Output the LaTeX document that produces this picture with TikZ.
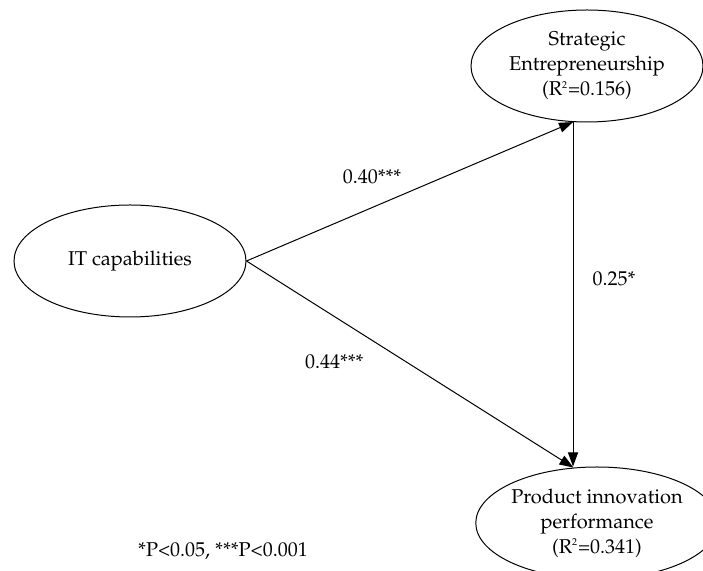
\documentclass[tikz,border=0pt]{standalone}
\usepackage[T1]{fontenc}
\usepackage{mathpazo}
\usetikzlibrary{shapes.geometric,arrows.meta}

\begin{document}
\begin{tikzpicture}[x=0.5pt,y=-0.5pt,
    latent/.style={ellipse,draw,line width=0.5pt,inner sep=0pt,
      minimum width=116pt,minimum height=56pt,align=center,
      font=\fontsize{10}{12.5}\selectfont},
    path/.style={line width=0.5pt,-{Triangle[length=7pt,width=5pt]}},
    coef/.style={font=\fontsize{10}{12}\selectfont}]
   \useasboundingbox (0,0) rectangle (703,571);
   \node[latent] (it)  at (130,261) {IT capabilities};
   \node[latent] (se)  at (587,66)  {Strategic\\Entrepreneurship\\(R\textsuperscript{\tiny 2}=0.156)};
   \node[latent] (pip) at (597,523) {Product innovation\\performance\\(R\textsuperscript{\tiny 2}=0.341)};
   \draw[path] (it.east) -- (se.256) node[coef,pos=0.4,xshift=-2.5pt,yshift=14.5pt] {0.40***};
   \draw[path] (it.east) -- (pip.113) node[coef,pos=0.25,xshift=3pt,yshift=-24.5pt] {0.44***};
   \draw[path] (se.256) -- (se.256 |- pip.north) node[coef,midway,xshift=20.5pt,yshift=8pt] {0.25*};
   \node[coef] (note) at (223,551) {*P<0.05, ***P<0.001};
\end{tikzpicture}
\end{document}
